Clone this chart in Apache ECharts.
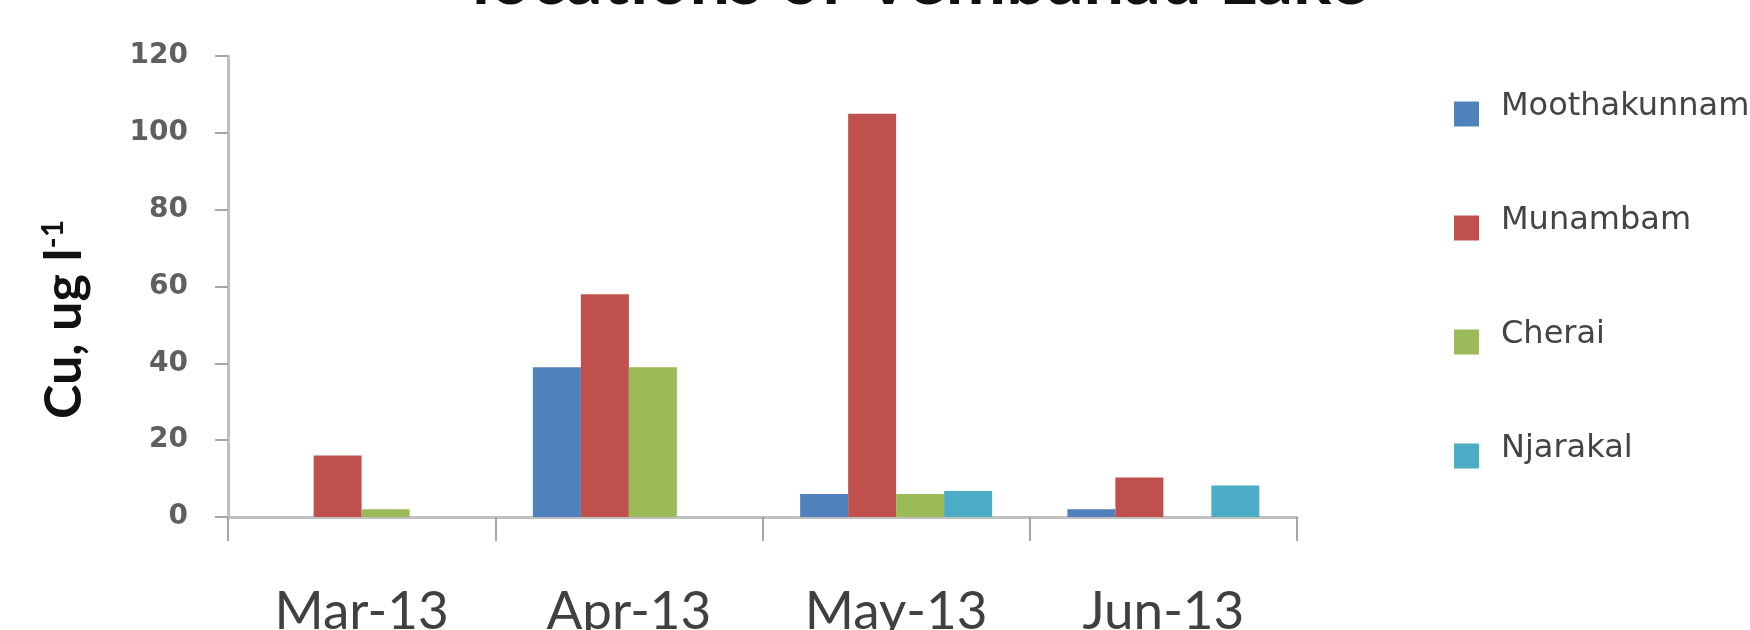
<!DOCTYPE html>
<html>
<head>
<meta charset="utf-8">
<script src="https://cdn.jsdelivr.net/npm/echarts@6/dist/echarts.min.js"></script>
<style>
  html, body { margin: 0; padding: 0; background: #fff; }
  #main { width: 1750px; height: 630px; }
</style>
</head>
<body>
<div id="main"></div>
<script>
var months = ['Mar-13', 'Apr-13', 'May-13', 'Jun-13'];
var stations = ['Moothakunnam', 'Munambam', 'Cherai', 'Njarakal'];
var moothakunnam = [null, 39, 6, 2];
var munambam = [16, 58, 105, 10.3];
var cherai = [2, 39, 6, null];
var njarakal = [null, null, 6.8, 8.2];
var colors = ['#4f81bd', '#c0504d', '#9bbb59', '#4bacc6'];

var chart = echarts.init(document.getElementById('main'));

// one bar series per station
function barSeries(name, values) {
  return {
    name: name,
    type: 'bar',
    data: values,
    barWidth: 48,
    barGap: '0%'
  };
}

var option = {
  animation: false,
  color: colors,
  title: {
    text: 'locations of Vembanad Lake',
    left: 915,
    textAlign: 'center',
    top: -60,
    textStyle: { fontFamily: 'Lato', fontSize: 72, fontWeight: 'bold', color: '#111' }
  },
  legend: {
    orient: 'vertical',
    left: 1454,
    top: 91,
    padding: 0,
    itemWidth: 25,
    itemHeight: 25,
    itemGap: 68,
    icon: 'rect',
    data: stations,
    formatter: '{t|{name}}',
    textStyle: {
      rich: {
        t: {
          fontFamily: 'DejaVu Sans',
          fontSize: 32,
          color: '#444',
          lineHeight: 32,
          padding: [0, 0, 14, 17]
        }
      }
    }
  },
  grid: { left: 228, right: 453, top: 56, bottom: 113, outerBoundsMode: 'none' },
  xAxis: {
    type: 'category',
    data: months,
    axisLine: { lineStyle: { color: '#bfbfbf', width: 3 } },
    axisTick: { show: true, length: 24, lineStyle: { color: '#a6a6a6', width: 2 } },
    axisLabel: { margin: 68, fontFamily: 'Lato', fontSize: 53, color: '#404040' }
  },
  yAxis: {
    type: 'value',
    min: 0,
    max: 120,
    interval: 20,
    splitLine: { show: false },
    axisLine: { show: true, lineStyle: { color: '#bfbfbf', width: 3 } },
    axisTick: { show: true, length: 13, lineStyle: { color: '#a6a6a6', width: 2 } },
    axisLabel: { margin: 40, fontFamily: 'DejaVu Sans', fontWeight: 'bold', fontSize: 28, color: '#5f5f5f' },
    name: '{a|Cu, ug l}{s|-1}',
    nameLocation: 'middle',
    nameRotate: 90,
    nameGap: 138,
    nameTextStyle: {
      padding: [0, 66, 0, 0],
      rich: {
        a: { fontFamily: 'Lato', fontSize: 52, fontWeight: 'bold', color: '#111' },
        s: { fontFamily: 'Lato', fontSize: 30, fontWeight: 'bold', color: '#111', verticalAlign: 'top', padding: [0, 0, 22, 0] }
      }
    }
  },
  series: [
    barSeries(stations[0], moothakunnam),
    barSeries(stations[1], munambam),
    barSeries(stations[2], cherai),
    barSeries(stations[3], njarakal)
  ]
};

chart.setOption(option);
</script>
</body>
</html>
